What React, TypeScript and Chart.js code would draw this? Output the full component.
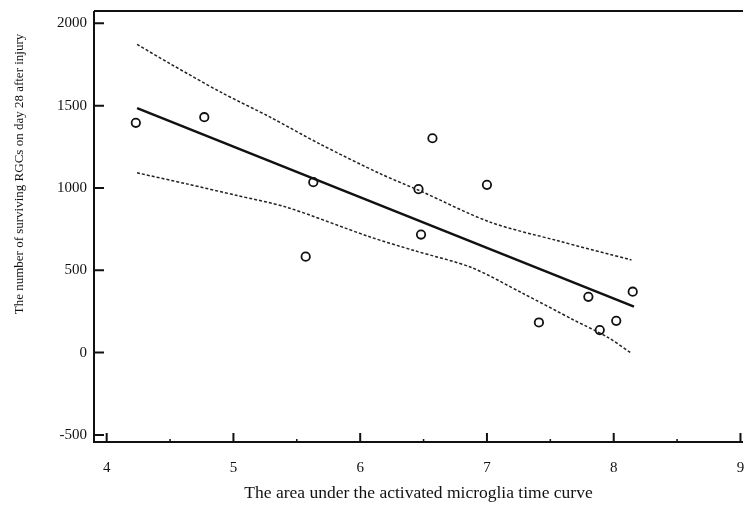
import React, { useEffect, useRef } from "react";
import { Chart, registerables } from "chart.js";

Chart.register(...registerables);

// Observed data points
const pointX = [4.23, 4.77, 5.63, 5.57, 6.46, 6.57, 6.48, 7.0, 7.41, 7.8, 7.89, 8.02, 8.15];
const pointY = [1396, 1430, 1035, 583, 993, 1302, 717, 1019, 183, 339, 137, 193, 370];

// Regression line
const fitX = [4.24, 8.16];
const fitY = [1485, 279];

// Upper confidence band
const upperX = [4.24, 4.5, 4.9, 5.29, 5.68, 6.16, 6.48, 7.02, 7.55, 8.14];
const upperY = [1872, 1755, 1582, 1430, 1268, 1086, 980, 794, 681, 563];

// Lower confidence band
const lowerX = [4.24, 4.63, 5.03, 5.42, 6.08, 6.43, 6.88, 7.28, 7.69, 7.95, 8.14];
const lowerY = [1092, 1025, 954, 883, 702, 619, 516, 361, 196, 94, -4];

// Axis ticks
const xTicks = [4, 5, 6, 7, 8, 9];
const xMinorTicks = [4.5, 5.5, 6.5, 7.5, 8.5];
const yTicks = [-500, 0, 500, 1000, 1500, 2000];

const xTitle = "The area under the activated microglia time curve";
const yTitle = "The number of surviving RGCs on day 28 after injury";

const FONT = "'Liberation Serif', 'DejaVu Serif', serif";

const zip = (xs: number[], ys: number[]) => xs.map((x, i) => ({ x, y: ys[i] }));

const axesPlugin = {
  id: "axesPlugin",
  afterDraw(chart: any) {
    const { ctx, chartArea } = chart;
    const xs = chart.scales.x;
    const ys = chart.scales.y;
    const { left, right, top, bottom } = chartArea;
    ctx.save();
    ctx.strokeStyle = "#111";
    ctx.lineWidth = 2;
    ctx.beginPath();
    ctx.moveTo(left, top);
    ctx.lineTo(right, top);
    ctx.moveTo(left, top);
    ctx.lineTo(left, bottom);
    ctx.lineTo(right, bottom);
    ctx.stroke();
    ctx.beginPath();
    yTicks.forEach((v) => {
      const py = ys.getPixelForValue(v);
      ctx.moveTo(left, py);
      ctx.lineTo(left + 10, py);
    });
    xTicks.forEach((v) => {
      const px = xs.getPixelForValue(v);
      ctx.moveTo(px, bottom);
      ctx.lineTo(px, bottom - 9);
    });
    ctx.stroke();
    ctx.lineWidth = 1.5;
    ctx.beginPath();
    xMinorTicks.forEach((v) => {
      const px = xs.getPixelForValue(v);
      ctx.moveTo(px, bottom);
      ctx.lineTo(px, bottom - 3);
    });
    ctx.stroke();
    // y axis title
    ctx.fillStyle = "#111";
    ctx.font = `13px ${FONT}`;
    ctx.textAlign = "center";
    ctx.textBaseline = "middle";
    ctx.translate(20, 174);
    ctx.rotate(-Math.PI / 2);
    ctx.fillText(yTitle, 0, 0);
    ctx.restore();
  },
};

export default function App() {
  const ref = useRef<HTMLCanvasElement | null>(null);
  useEffect(() => {
    if (!ref.current) return;
    const chart = new Chart(ref.current, {
      type: "scatter",
      data: {
        datasets: [
          {
            data: zip(upperX, upperY),
            showLine: true,
            borderColor: "#222",
            borderWidth: 1.5,
            borderDash: [3, 2],
            pointRadius: 0,
            tension: 0.3,
          },
          {
            data: zip(lowerX, lowerY),
            showLine: true,
            borderColor: "#222",
            borderWidth: 1.5,
            borderDash: [3, 2],
            pointRadius: 0,
            tension: 0.3,
          },
          {
            data: zip(fitX, fitY),
            showLine: true,
            borderColor: "#111",
            borderWidth: 2.5,
            pointRadius: 0,
          },
          {
            data: zip(pointX, pointY),
            showLine: false,
            pointRadius: 4.2,
            pointBorderWidth: 1.8,
            pointBorderColor: "#111",
            pointBackgroundColor: "rgba(255,255,255,0)",
          },
        ],
      },
      options: {
        animation: false,
        responsive: false,
        events: [],
        layout: { padding: { top: 11, right: 1, left: 0, bottom: 0 }, autoPadding: false },
        plugins: { legend: { display: false }, tooltip: { enabled: false } },
        scales: {
          x: {
            type: "linear",
            min: 3.9,
            max: 9.02,
            grid: { display: false, drawTicks: false },
            border: { display: false },
            afterBuildTicks: (s: any) => {
              s.ticks = xTicks.map((v) => ({ value: v }));
            },
            afterFit: (s: any) => {
              s.height = 65;
              s.paddingLeft = 0;
              s.paddingRight = 0;
            },
            ticks: {
              padding: 17,
              maxRotation: 0,
              autoSkip: false,
              color: "#111",
              font: { family: FONT, size: 15 },
              callback: (v: any) => String(v),
            },
            title: {
              display: true,
              text: xTitle,
              color: "#111",
              font: { family: FONT, size: 17.5 },
              padding: { top: 0, bottom: 3 },
            },
          },
          y: {
            type: "linear",
            min: -543,
            max: 2075,
            grid: { display: false, drawTicks: false },
            border: { display: false },
            afterBuildTicks: (s: any) => {
              s.ticks = yTicks.map((v) => ({ value: v }));
            },
            afterFit: (s: any) => {
              s.width = 94;
              s.paddingTop = 0;
              s.paddingBottom = 0;
            },
            ticks: {
              padding: 7,
              autoSkip: false,
              color: "#111",
              font: { family: FONT, size: 15 },
              callback: (v: any) => String(v),
            },
          },
        },
      },
      plugins: [axesPlugin],
    });
    return () => chart.destroy();
  }, []);
  return (
    <div style={{ position: "absolute", left: 0, top: 0, width: 744, height: 507, background: "#fff" }}>
      <canvas ref={ref} width={744} height={507} />
    </div>
  );
}
